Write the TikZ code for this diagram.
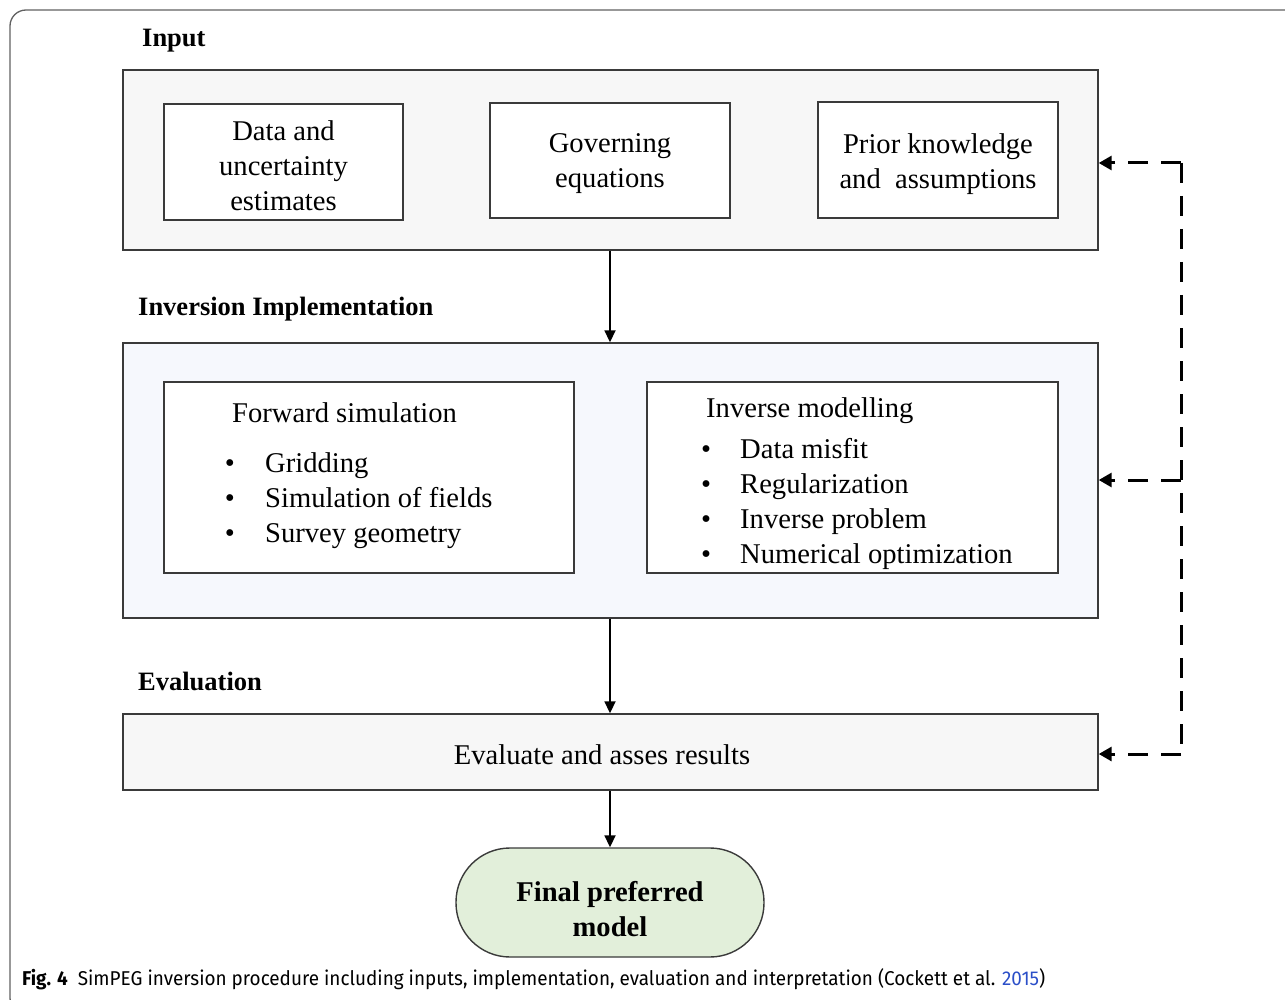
\documentclass[tikz,border=0pt]{standalone}
\usepackage{fontspec}
\setmainfont{Liberation Serif}
\newfontfamily\capfont{Fira Sans}
\usetikzlibrary{arrows.meta}

\definecolor{edge}{HTML}{3A3A3A}
\definecolor{panelgray}{HTML}{F7F7F7}
\definecolor{panelblue}{HTML}{F6F8FD}
\definecolor{modelgreen}{HTML}{E2EFDA}
\definecolor{citeblue}{HTML}{2B4FC8}

\tikzset{
  panel/.style={draw=edge, line width=1.4pt, inner sep=0pt},
  itembox/.style={draw=edge, line width=1.4pt, fill=white, inner sep=0pt},
  body/.style={font=\fontsize{28.6}{35}\selectfont, inner sep=0pt, align=center},
  heading/.style={font=\bfseries\fontsize{26.5}{32}\selectfont, inner sep=0pt, anchor=base west},
  listtxt/.style={font=\fontsize{28.6}{35}\selectfont, inner sep=0pt, anchor=base west},
  flow/.style={line width=1.8pt, -{Triangle[length=12pt,width=11pt]}},
  feedback/.style={line width=3pt, dash pattern=on 20pt off 13pt},
  feedarrow/.style={line width=3pt, dash pattern=on 20pt off 13pt, -{Triangle[length=13pt,width=14pt]}}
}

\begin{document}
\begin{tikzpicture}[x=1pt,y=-1pt]
\useasboundingbox (0,0) rectangle (1285,1000);

% page frame
\draw[edge!80, line width=1.3pt, rounded corners=16pt]
  (1300,10) -- (10,10) -- (10,1014) -- (60,1014);

% ---------- Input ----------
\node[heading] (hin) at (142,47) {Input};
\node[panel, fill=panelgray, minimum width=975pt, minimum height=180pt] (input) at (610.5,160) {};
\node[itembox, minimum width=239pt, minimum height=116pt] (data) at (283.5,162) {};
\node[body] (datat) at (283.5,166) {Data and\\uncertainty\\estimates};
\node[itembox, minimum width=240pt, minimum height=115pt] (gov) at (610,160.5) {};
\node[body] (govt) at (610,164) {Governing\\equations};
\node[itembox, minimum width=240pt, minimum height=116pt] (prior) at (938,160) {};
\node[body] (priort) at (938,164) {Prior knowledge\\and\ \ assumptions};

% ---------- Inversion implementation ----------
\node[heading] (himp) at (138,316) {Inversion Implementation};
\node[panel, fill=panelblue, minimum width=975pt, minimum height=275pt] (impl) at (610.5,480.5) {};
\node[itembox, minimum width=410pt, minimum height=191pt] (fwd) at (369,477.5) {};
\node[itembox, minimum width=411pt, minimum height=191pt] (inv) at (852.5,477.5) {};

\node[listtxt] (fwdt) at (232,422) {Forward simulation};
\foreach \t/\yy [count=\i] in {Gridding/472, Simulation of fields/507, Survey geometry/542}{
  \node[listtxt, anchor=base] (fb\i) at (230,\yy) {\textbullet};
  \node[listtxt] (fi\i) at (265,\yy) {\t};
}
\node[listtxt] (invt) at (706,417) {Inverse modelling};
\foreach \t/\yy [count=\i] in {Data misfit/458, Regularization/493, Inverse problem/528, Numerical optimization/563}{
  \node[listtxt, anchor=base] (ib\i) at (706,\yy) {\textbullet};
  \node[listtxt] (ii\i) at (740,\yy) {\t};
}

% ---------- Evaluation ----------
\node[heading] (hev) at (138,690) {Evaluation};
\node[panel, fill=panelgray, minimum width=975pt, minimum height=76pt] (eval) at (610.5,752) {};
\node[body] (evalt) at (602,755) {Evaluate and asses results};

% ---------- Final model ----------
\node[draw=edge, line width=1.4pt, fill=modelgreen, rounded corners=54pt,
      minimum width=308pt, minimum height=109pt, inner sep=0pt] (final) at (610,902.5) {};
\node[inner sep=0pt, font=\bfseries\fontsize{28.6}{35}\selectfont, align=center] (finalt) at (610,909)
      {Final preferred\\model};

% ---------- main flow ----------
\draw[flow] (input.south -| gov.south) -- (impl.north -| gov.south);
\draw[flow] (impl.south -| gov.south) -- (eval.north -| gov.south);
\draw[flow] (eval.south -| gov.south) -- (final.north);

% ---------- feedback loop ----------
\coordinate (ftop) at (1181,163);
\coordinate (fmid) at (1181,480);
\coordinate (fbot) at (1181,754);
\draw[feedback] (ftop) -- (fbot);
\draw[feedarrow] (ftop) -- (input.east |- ftop);
\draw[feedarrow] (fmid) -- (impl.east |- fmid);
\draw[feedarrow] (fbot) -- (eval.east |- fbot);

% ---------- caption ----------
\node[inner sep=0pt, anchor=base west, xscale=0.946, transform shape,
      font=\capfont\fontsize{20}{24}\selectfont] (cap) at (22,985)
  {\textbf{Fig. 4}\ \ SimPEG inversion procedure including inputs, implementation, evaluation and interpretation (Cockett et al. \textcolor{citeblue}{2015})};
\end{tikzpicture}
\end{document}
